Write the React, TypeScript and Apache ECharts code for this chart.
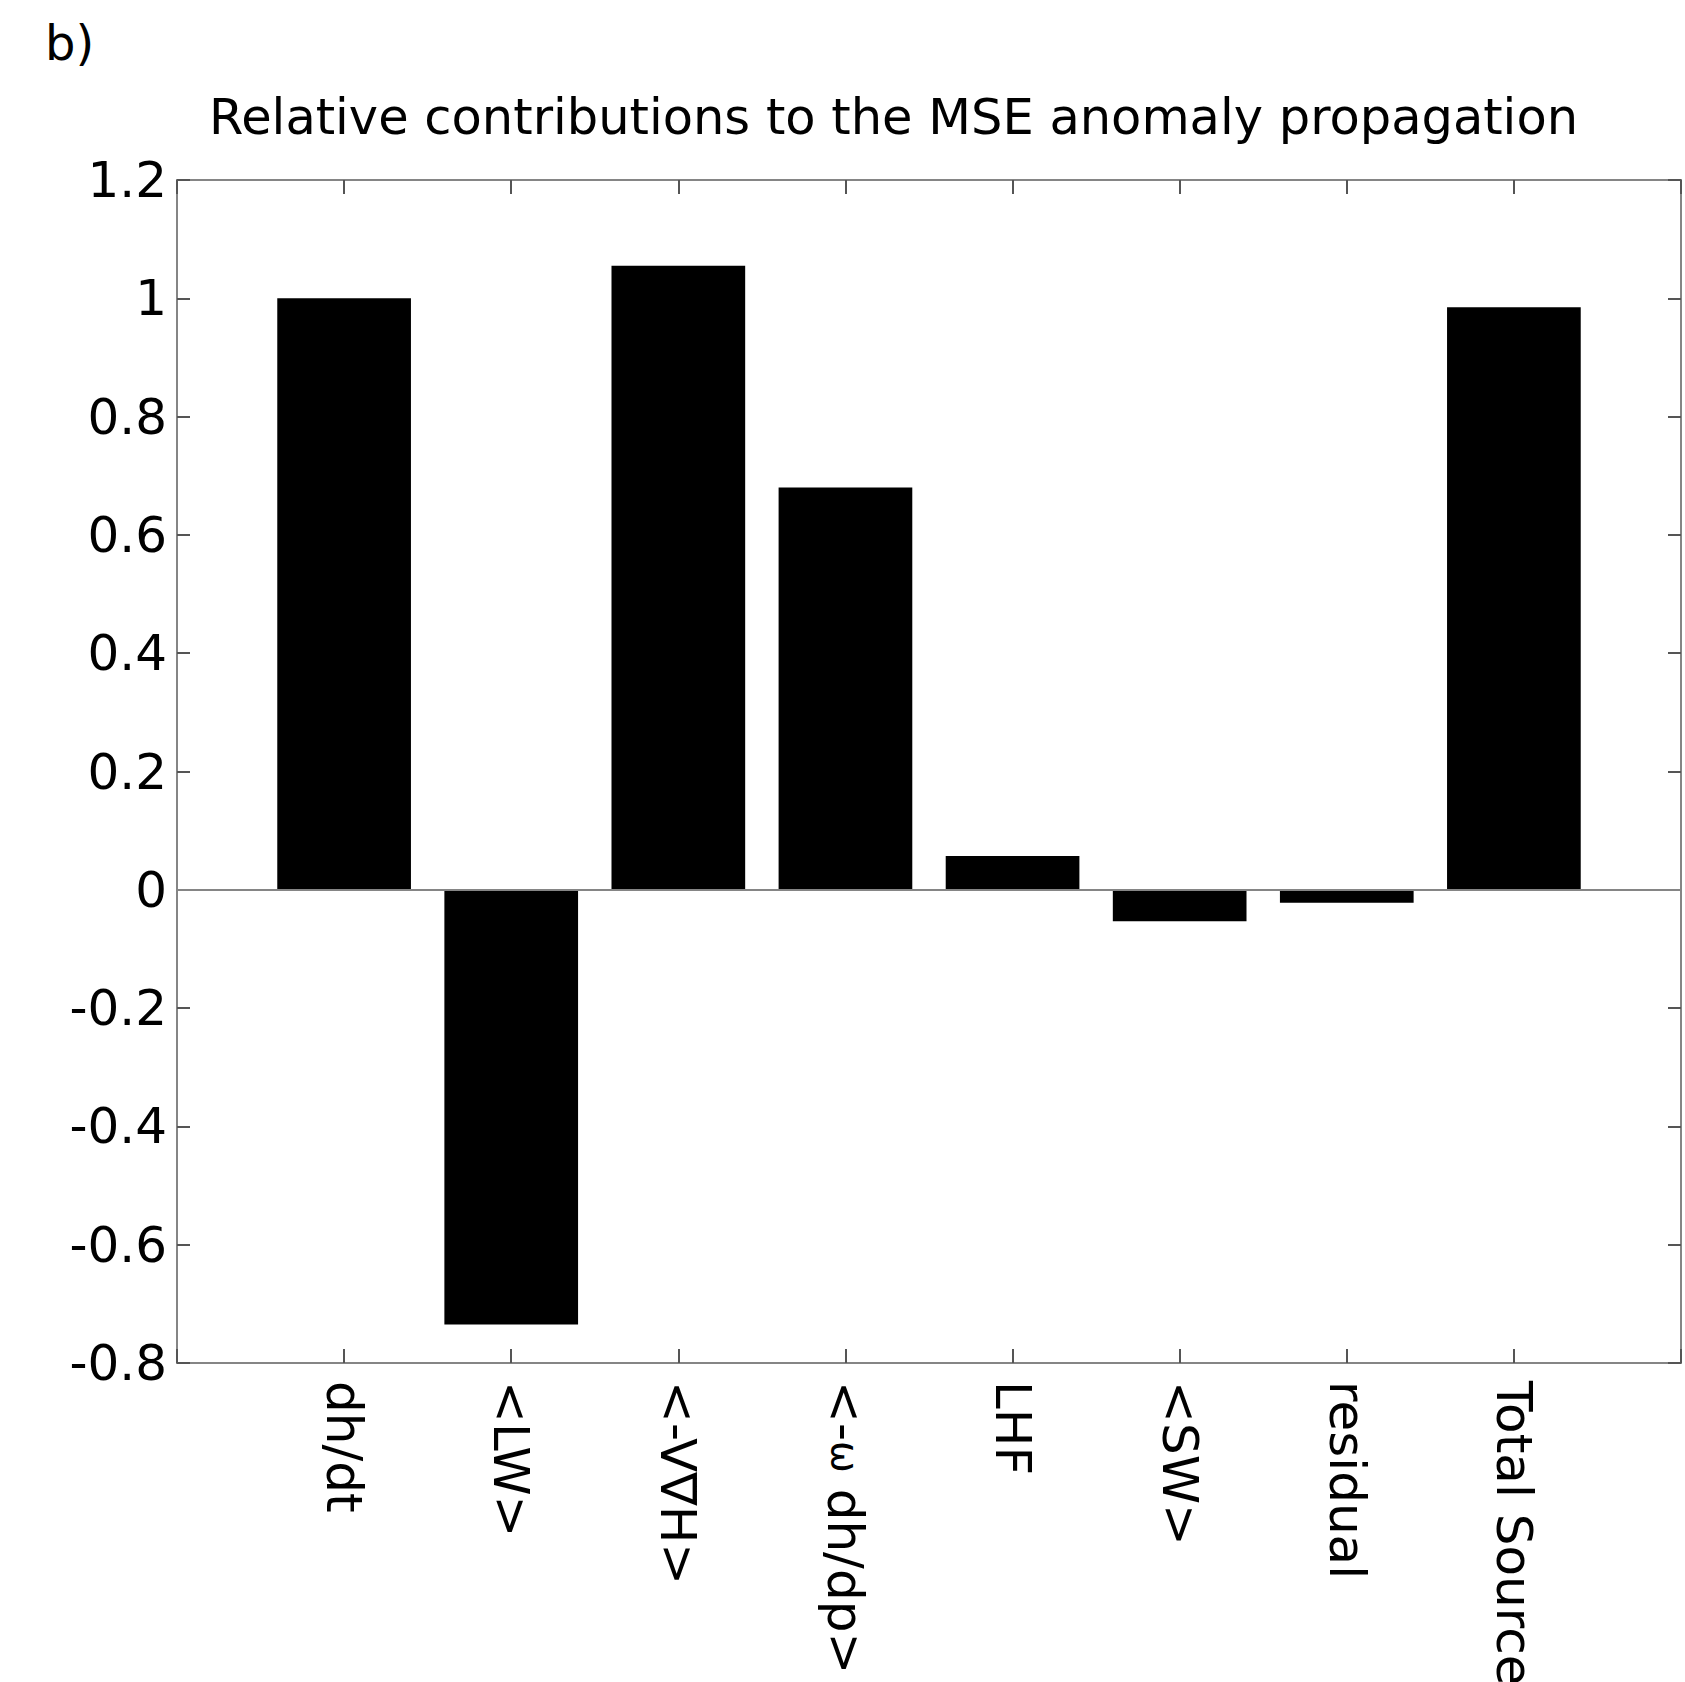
import React, { useEffect, useRef } from "react";
import * as echarts from "echarts";

// Budget terms and their contribution relative to the MSE tendency
// ({w|...} marks the smaller omega glyph in the vertical-advection term)
const categories = [
  "dh/dt",
  "<LW>",
  "<-V\u2207H>",
  "<-{w|\u03c9} dh/dp>",
  "LHF",
  "<SW>",
  "residual",
  "Total Source",
];
const contributions = [1.0, -0.735, 1.055, 0.68, 0.057, -0.053, -0.022, 0.985];

// Value axis range and step
const yMin = -0.8;
const yMax = 1.2;
const yStep = 0.2;

const titleText = "Relative contributions to the MSE anomaly propagation";
const panelLabel = "b)";

const FONT = "DejaVu Sans";
const FONT_SIZE = 50;
const TITLE_SIZE = 49.5;
const FRAME = "#858585";
const TICK = "#555555";

export default function App() {
  const ref = useRef<HTMLDivElement>(null);

  useEffect(() => {
    document.body.style.margin = "0";
    document.body.style.overflow = "hidden";
    const chart = echarts.init(ref.current!, null, { renderer: "svg" });

    // bars sit at x = 1..n, with half-slot padding at both ends (0 and n+1)
    const barData = contributions.map((v, i) => [i + 1, v]);
    const xMax = categories.length + 1;

    const frameLine = { show: true, onZero: false, lineStyle: { color: FRAME, width: 2 } };
    const innerTick = (len: number) => ({
      show: true,
      inside: true,
      length: len,
      lineStyle: { color: TICK, width: 2 },
    });

    chart.setOption({
      animation: false,
      backgroundColor: "#ffffff",
      textStyle: { fontFamily: FONT },
      grid: {
        left: 177,
        right: 4,
        top: 180,
        bottom: 319,
        containLabel: false,
        // the last category label runs off the bottom edge; keep the plot box fixed
        outerBoundsMode: "none",
      },
      graphic: [
        {
          type: "text",
          x: 45,
          y: 43,
          style: {
            text: panelLabel,
            font: `48px "${FONT}"`,
            fill: "#000",
            verticalAlign: "middle",
          },
        },
        {
          type: "text",
          x: 209,
          y: 117,
          style: {
            text: titleText,
            font: `${TITLE_SIZE}px "${FONT}"`,
            fill: "#000",
            verticalAlign: "middle",
          },
        },
      ],
      xAxis: [
        {
          type: "value",
          position: "bottom",
          min: 0,
          max: xMax,
          interval: 1,
          axisLine: frameLine,
          axisTick: innerTick(14),
          splitLine: { show: false },
          axisLabel: {
            show: true,
            rotate: -90,
            margin: 18,
            fontSize: FONT_SIZE,
            fontFamily: FONT,
            color: "#000",
            rich: {
              w: {
                fontSize: 38,
                fontFamily: FONT,
                color: "#000",
                verticalAlign: "middle",
              },
            },
            formatter: (v: number) =>
              v >= 1 && v <= categories.length ? categories[Math.round(v) - 1] : "",
          },
        },
        {
          type: "value",
          position: "top",
          min: 0,
          max: xMax,
          interval: 1,
          axisLine: frameLine,
          axisTick: innerTick(14),
          splitLine: { show: false },
          axisLabel: { show: false },
        },
      ],
      yAxis: [
        {
          type: "value",
          position: "left",
          min: yMin,
          max: yMax,
          interval: yStep,
          axisLine: frameLine,
          axisTick: innerTick(13),
          splitLine: { show: false },
          axisLabel: {
            show: true,
            margin: 10,
            fontSize: FONT_SIZE,
            fontFamily: FONT,
            color: "#000",
            formatter: (v: number) => String(Math.round(v * 10) / 10),
          },
        },
        {
          type: "value",
          position: "right",
          min: yMin,
          max: yMax,
          interval: yStep,
          axisLine: frameLine,
          axisTick: innerTick(13),
          splitLine: { show: false },
          axisLabel: { show: false },
        },
      ],
      series: [
        {
          type: "bar",
          xAxisIndex: 0,
          yAxisIndex: 0,
          data: barData,
          barWidth: "80%",
          itemStyle: { color: "#000000" },
          markLine: {
            silent: true,
            symbol: ["none", "none"],
            label: { show: false },
            lineStyle: { color: FRAME, width: 2, type: "solid" },
            data: [{ yAxis: 0 }],
          },
        },
      ],
    });

    return () => chart.dispose();
  }, []);

  return (
    <div
      ref={ref}
      style={{
        position: "absolute",
        left: 0,
        top: 0,
        width: 1685,
        height: 1682,
        overflow: "hidden",
      }}
    />
  );
}
